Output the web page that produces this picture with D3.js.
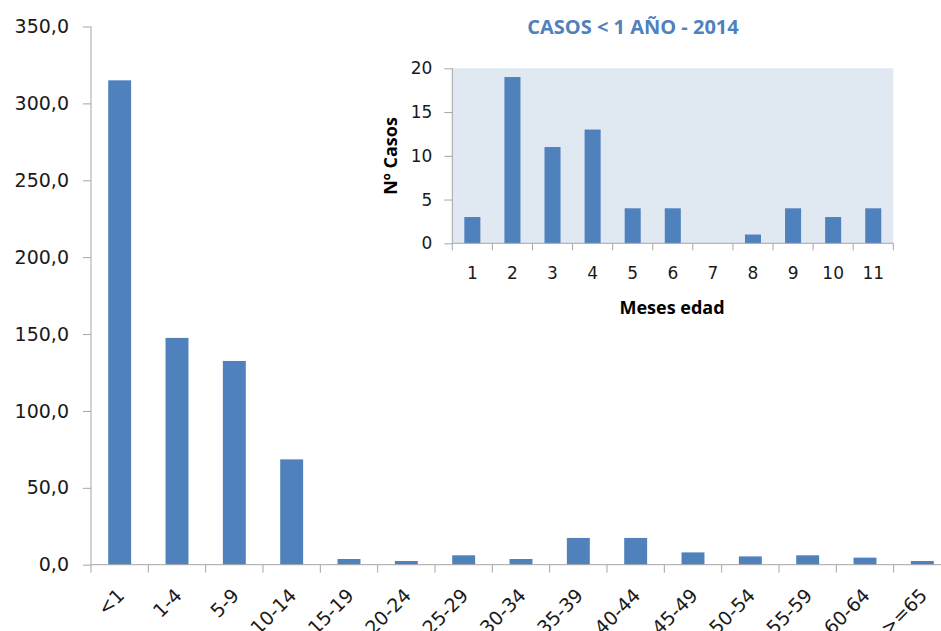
<!DOCTYPE html>
<html>
<head>
<meta charset="utf-8">
<title>Casos por edad</title>
<style>
  body { margin: 0; background: #fff; }
  svg { display: block; }
</style>
</head>
<body>
<script src="https://cdn.jsdelivr.net/npm/d3@7"></script>
<script>
  var width = 941, height = 631;

  // grupos de edad (gráfico principal)
  var grupos = ["<1", "1-4", "5-9", "10-14", "15-19", "20-24", "25-29", "30-34", "35-39", "40-44", "45-49", "50-54", "55-59", "60-64", ">=65"];
  var tasas = [315, 147.5, 132.5, 68.5, 3.7, 2.4, 6.1, 3.7, 17.4, 17.4, 8.0, 5.4, 6.1, 4.6, 2.4];
  var ticksY = [0, 50, 100, 150, 200, 250, 300, 350];

  // casos < 1 año por mes de edad (gráfico pequeño)
  var meses = ["1", "2", "3", "4", "5", "6", "7", "8", "9", "10", "11"];
  var casos = [3, 19, 11, 13, 4, 4, 0, 1, 4, 3, 4];
  var ticksCasos = [0, 5, 10, 15, 20];

  var azul = "#4f81bd";
  var gris = "#a6a6a6";
  var fuenteEje = "'DejaVu Sans', Verdana, sans-serif";
  var fuenteTitulo = "'Open Sans', 'Liberation Sans', sans-serif";

  var svg = d3.select("body").append("svg")
      .attr("width", width)
      .attr("height", height);

  // ---------- gráfico principal ----------
  var x = d3.scaleBand()
      .domain(grupos)
      .range([91, 951])
      .paddingInner(0.6)
      .paddingOuter(0.3);
  var y = d3.scaleLinear()
      .domain([0, 350])
      .range([564.7, 26.5]);
  var fmt = function (d) { return d3.format(".1f")(d).replace(".", ","); };

  var main = svg.append("g");

  main.selectAll("rect.barra")
      .data(tasas)
      .enter()
      .append("rect")
      .attr("class", "barra")
      .attr("x", function (d, i) { return x(grupos[i]); })
      .attr("width", x.bandwidth())
      .attr("y", function (d) { return y(d); })
      .attr("height", function (d) { return y(0) - y(d); })
      .attr("fill", azul);

  // eje Y
  var ejeY = main.append("g")
      .attr("transform", "translate(91,0)")
      .call(d3.axisLeft(y).tickValues(ticksY).tickFormat(fmt).tickSize(8).tickPadding(14));
  ejeY.select(".domain").attr("stroke", gris).attr("d", "M0," + y(350) + "V" + y(0));
  ejeY.selectAll(".tick line").attr("stroke", gris);
  ejeY.selectAll(".tick text")
      .attr("font-family", fuenteEje)
      .attr("font-size", 19)
      .attr("fill", "#1a1a1a");

  // eje X
  var ejeX = main.append("g")
      .attr("transform", "translate(0," + y(0) + ")");
  ejeX.append("line")
      .attr("x1", 91).attr("x2", 951)
      .attr("stroke", gris);
  var bordes = d3.range(grupos.length + 1).map(function (i) { return 91 + i * x.step(); });
  ejeX.selectAll("line.tk")
      .data(bordes)
      .enter()
      .append("line")
      .attr("class", "tk")
      .attr("x1", function (d) { return d; })
      .attr("x2", function (d) { return d; })
      .attr("y1", 0)
      .attr("y2", 8)
      .attr("stroke", gris);
  ejeX.selectAll("text")
      .data(grupos)
      .enter()
      .append("text")
      .attr("transform", function (d) {
          return "translate(" + (x(d) + x.bandwidth() / 2 + 6) + ",32) rotate(-45)";
      })
      .attr("text-anchor", "end")
      .attr("font-family", fuenteEje)
      .attr("font-size", 19)
      .attr("fill", "#1a1a1a")
      .text(function (d) { return d; });

  // ---------- gráfico pequeño ----------
  var x2 = d3.scaleBand()
      .domain(meses)
      .range([452.3, 893.3])
      .paddingInner(0.6)
      .paddingOuter(0.3);
  var y2 = d3.scaleLinear()
      .domain([0, 20])
      .range([243.3, 68.3]);

  var ins = svg.append("g");

  ins.append("rect")
      .attr("x", 452.3)
      .attr("y", y2(20))
      .attr("width", 441)
      .attr("height", y2(0) - y2(20))
      .attr("fill", "#e0e8f2");

  ins.selectAll("rect.barra2")
      .data(casos)
      .enter()
      .append("rect")
      .attr("class", "barra2")
      .attr("x", function (d, i) { return x2(meses[i]); })
      .attr("width", x2.bandwidth())
      .attr("y", function (d) { return y2(d); })
      .attr("height", function (d) { return y2(0) - y2(d); })
      .attr("fill", azul);

  var ejeY2 = ins.append("g")
      .attr("transform", "translate(452.3,0)")
      .call(d3.axisLeft(y2).tickValues(ticksCasos).tickSize(8).tickPadding(12));
  ejeY2.select(".domain").attr("stroke", gris).attr("d", "M0," + y2(20) + "V" + y2(0));
  ejeY2.selectAll(".tick line").attr("stroke", gris);
  ejeY2.selectAll(".tick text")
      .attr("font-family", fuenteEje)
      .attr("font-size", 17)
      .attr("fill", "#1a1a1a");

  var ejeX2 = ins.append("g")
      .attr("transform", "translate(0," + y2(0) + ")");
  ejeX2.append("line")
      .attr("x1", 452.3).attr("x2", 893.3)
      .attr("stroke", gris);
  var bordes2 = d3.range(meses.length + 1).map(function (i) { return 452.3 + i * x2.step(); });
  ejeX2.selectAll("line.tk")
      .data(bordes2)
      .enter()
      .append("line")
      .attr("class", "tk")
      .attr("x1", function (d) { return d; })
      .attr("x2", function (d) { return d; })
      .attr("y1", 0)
      .attr("y2", 7)
      .attr("stroke", gris);
  ejeX2.selectAll("text")
      .data(meses)
      .enter()
      .append("text")
      .attr("x", function (d) { return x2(d) + x2.bandwidth() / 2; })
      .attr("y", 36)
      .attr("text-anchor", "middle")
      .attr("font-family", fuenteEje)
      .attr("font-size", 17)
      .attr("fill", "#1a1a1a")
      .text(function (d) { return d; });

  // títulos
  ins.append("text")
      .attr("x", 633)
      .attr("y", 34)
      .attr("text-anchor", "middle")
      .attr("font-family", fuenteTitulo)
      .attr("font-weight", "bold")
      .attr("font-size", 20)
      .attr("fill", azul)
      .text("CASOS < 1 AÑO - 2014");

  ins.append("text")
      .attr("transform", "translate(397,156) rotate(-90)")
      .attr("text-anchor", "middle")
      .attr("font-family", fuenteTitulo)
      .attr("font-weight", "bold")
      .attr("font-size", 18)
      .attr("fill", "#000")
      .text("Nº Casos");

  ins.append("text")
      .attr("x", 672)
      .attr("y", 314)
      .attr("text-anchor", "middle")
      .attr("font-family", fuenteTitulo)
      .attr("font-weight", "bold")
      .attr("font-size", 18)
      .attr("fill", "#000")
      .text("Meses edad");
</script>
</body>
</html>
